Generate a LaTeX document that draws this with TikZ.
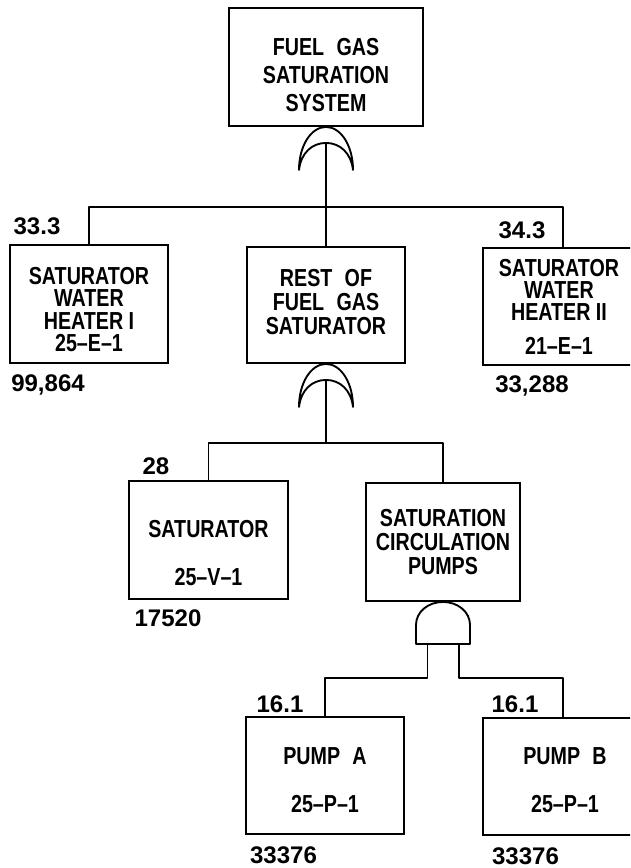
\documentclass[tikz,border=0pt]{standalone}
\usepackage{fontspec}
\newfontfamily\plotfont{Liberation Sans}[FakeStretch=0.8, Ligatures=TeX]
\newfontfamily\numfont{Liberation Sans}

\tikzset{
  wire/.style={line width=1.6pt, line join=round},
  box/.style 2 args={draw, line width=1.6pt, minimum width=#1cm, minimum height=#2cm, inner sep=0pt},
  txt/.style={align=center, inner sep=0pt, font=\plotfont\bfseries\fontsize{21}{#1}\selectfont},
  txt/.default=20.5,
  num/.style={inner sep=0pt, font=\numfont\bfseries\fontsize{20.5}{22}\selectfont},
  orgate/.pic={
    \draw[wire] (-27,43) .. controls (-27,19) and (-15,0) .. (0,0)
      .. controls (15,0) and (27,19) .. (27,43)
      .. controls (25,26) and (14,16) .. (0,16)
      .. controls (-14,16) and (-25,26) .. cycle;
    \coordinate (-in) at (0,16);
  },
  andgate/.pic={
    \draw[wire] (-27,42) -- (-27,23) .. controls (-27,10) and (-15,0) .. (0,0)
      .. controls (15,0) and (27,10) .. (27,23) -- (27,42) -- cycle;
    \coordinate (-l) at (-15.5,42);
    \coordinate (-r) at (16,42);
  }
}

\begin{document}
\begin{tikzpicture}[x=0.03cm, y=-0.03cm]
  \useasboundingbox (0,0) rectangle (630,868);
  \clip (0,0) rectangle (630,868);

  % boxes
  \node[box={5.82}{3.54}] (top) at (326,67) {};
  \node[box={4.74}{3.54}] (heat1) at (89,304) {};
  \node[box={4.74}{3.48}] (rest) at (326,305) {};
  \node[box={4.8}{3.51}] (heat2) at (563,306.5) {};
  \node[box={4.77}{3.54}] (sat) at (208.5,540) {};
  \node[box={4.62}{3.54}] (pumps) at (443,542) {};
  \node[box={4.74}{3.51}] (pumpA) at (325,775.5) {};
  \node[box={4.8}{3.51}] (pumpB) at (563,776.5) {};

  % box texts
  \node[txt=23.9] (top-t) at (326,75.5) {FUEL\enspace GAS\\SATURATION\\SYSTEM};
  \node[txt=19] (heat1-t) at (89,309.5) {SATURATOR\\WATER\\HEATER I\\25--E--1};
  \node[txt] (rest-t) at (326,302.5) {REST\enspace OF\\FUEL\enspace GAS\\SATURATOR};
  \node[txt=19] (heat2-t) at (559,306.8) {SATURATOR\\WATER\\HEATER II\\[10pt]21--E--1};
  \node[txt] (sat-t) at (208.5,553.5) {SATURATOR\\[20.5pt]25--V--1};
  \node[txt] (pumps-t) at (443,542.5) {SATURATION\\CIRCULATION\\PUMPS};
  \node[txt] (pumpA-t) at (325,780) {PUMP\enspace A\\[20pt]25--P--1};
  \node[txt] (pumpB-t) at (565,780) {PUMP\enspace B\\[20pt]25--P--1};

  % numbers
  \node[num] (heat1-p) at (37,226.5) {33.3};
  \node[num] (heat1-c) at (48,385) {99,864};
  \node[num] (heat2-p) at (522,230) {34.3};
  \node[num] (heat2-c) at (532,386) {33,288};
  \node[num] (sat-p) at (156,466.5) {28};
  \node[num] (sat-c) at (168,618.5) {17520};
  \node[num] (pumpA-p) at (280,704.5) {16.1};
  \node[num] (pumpB-p) at (515,704.5) {16.1};
  \node[num] (pumpA-c) at (283.5,855.5) {33376};
  \node[num] (pumpB-c) at (525.5,856) {33376};

  % gates
  \pic (or1) at (top.south) {orgate};
  \pic (or2) at (rest.south) {orgate};
  \pic (and) at (pumps.south) {andgate};

  % tree lines
  \coordinate (j1) at (326,207);
  \coordinate (j2) at (326,443);
  \coordinate (j3) at (443,678);
  \draw[wire] (or1-in) -- (rest.north);
  \draw[wire] (heat1.north) |- (j1) -| (heat2.north);
  \draw[wire] (or2-in) -- (j2);
  \draw[wire] (sat.north) |- (j2) -| (pumps.north);
  \draw[wire] (and-l) -- (and-l |- j3) -| (pumpA.north);
  \draw[wire] (and-r) -- (and-r |- j3) -| (pumpB.north);
\end{tikzpicture}
\end{document}
